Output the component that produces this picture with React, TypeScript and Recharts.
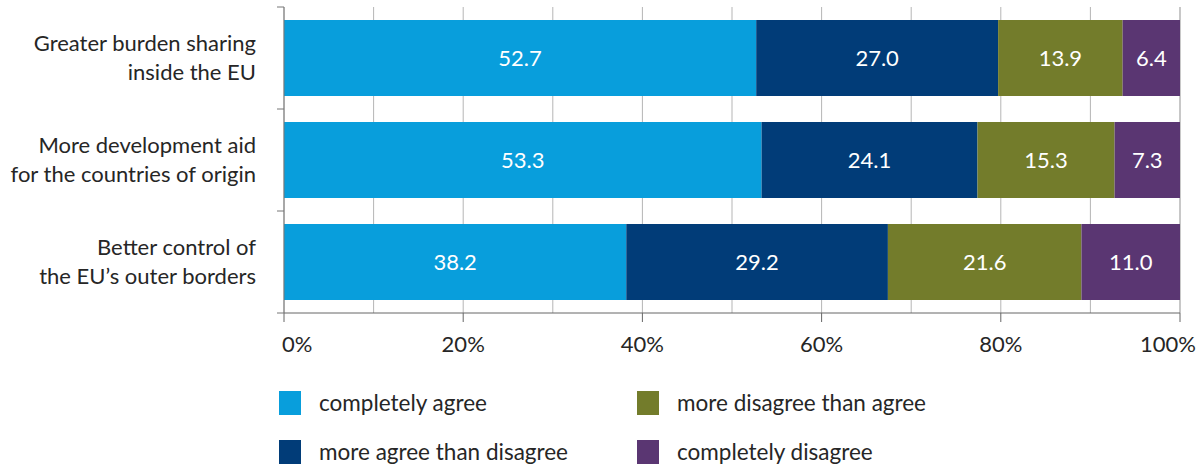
import { Bar, BarChart, CartesianGrid, LabelList, XAxis, YAxis } from "recharts";

const categories = [
  ["Greater burden sharing", "inside the EU"],
  ["More development aid", "for the countries of origin"],
  ["Better control of", "the EU\u2019s outer borders"],
];
const completelyAgree = [52.7, 53.3, 38.2];
const moreAgree = [27.0, 24.1, 29.2];
const moreDisagree = [13.9, 15.3, 21.6];
const completelyDisagree = [6.4, 7.3, 11.0];
// grid every 10%, labels and tick marks only every 20%
const gridValues = [0, 10, 20, 30, 40, 50, 60, 70, 80, 90, 100];
const labelStep = 20;

const series = [
  { key: "completelyAgree", name: "completely agree", color: "#089edc" },
  { key: "moreAgree", name: "more agree than disagree", color: "#013c78" },
  { key: "moreDisagree", name: "more disagree than agree", color: "#737c2b" },
  { key: "completelyDisagree", name: "completely disagree", color: "#5a3672" },
];

const data = categories.map((lines, i) => ({
  name: lines.join(" "),
  lines,
  completelyAgree: completelyAgree[i],
  moreAgree: moreAgree[i],
  moreDisagree: moreDisagree[i],
  completelyDisagree: completelyDisagree[i],
}));

const FONT = "Lato, 'Open Sans', sans-serif";
const TEXT = "#262626";
const WIDTH = 1201;
const HEIGHT = 360;
const TOP = 7;
const PLOT_H = 306;
const BAND = PLOT_H / categories.length;

function PercentTick(props: any) {
  const { x, y, payload } = props;
  const v = payload.value;
  if (v % labelStep !== 0) return null;
  // keep the end labels inside the chart
  const first = v === gridValues[0];
  const last = v === gridValues[gridValues.length - 1];
  const anchor = first ? "start" : last ? "end" : "middle";
  const tx = first ? x - 2 : last ? x + 16 : x;
  return (
    <g>
      <line x1={x} x2={x} y1={y} y2={y + 9} stroke="#666" />
      <text
        x={tx}
        y={y + 30}
        textAnchor={anchor}
        dominantBaseline="central"
        fill={TEXT}
        fontSize={22}
        fontFamily={FONT}
      >
        {`${v}%`}
      </text>
    </g>
  );
}

function CategoryTick(props: any) {
  const { x, y, payload } = props;
  const lines = data[payload.index]?.lines ?? [payload.value];
  const isLast = payload.index === categories.length - 1;
  return (
    <g>
      <line x1={x - 7} x2={x} y1={y - BAND / 2} y2={y - BAND / 2} stroke="#777" />
      {isLast && (
        <line x1={x - 7} x2={x} y1={y + BAND / 2} y2={y + BAND / 2} stroke="#777" />
      )}
      <text x={x - 28} textAnchor="end" fill={TEXT} fontSize={22} fontFamily={FONT}>
        {lines.map((l: string, i: number) => (
          <tspan key={i} x={x - 28} y={y - 14.5 + i * 29} dy="0.36em">
            {l}
          </tspan>
        ))}
      </text>
    </g>
  );
}

export default function App() {
  return (
    <div
      style={{
        position: "absolute",
        left: 0,
        top: 0,
        width: WIDTH,
        height: 467,
        background: "#fff",
        fontFamily: FONT,
      }}
    >
      <BarChart
        width={WIDTH}
        height={HEIGHT}
        data={data}
        layout="vertical"
        margin={{ top: TOP, right: 21, bottom: 0, left: 0 }}
        barSize={76}
      >
        <CartesianGrid horizontal={false} stroke="#b5b5b5" />
        <XAxis
          type="number"
          domain={[0, 100]}
          ticks={gridValues}
          interval={0}
          tick={<PercentTick />}
          tickSize={0}
          tickMargin={0}
          tickLine={false}
          axisLine={{ stroke: "#666" }}
          height={47}
        />
        <YAxis
          type="category"
          dataKey="name"
          width={284}
          tickSize={0}
          tickMargin={0}
          tickLine={false}
          axisLine={{ stroke: "#777" }}
          tick={<CategoryTick />}
          interval={0}
        />
        {series.map((s) => (
          <Bar
            key={s.key}
            dataKey={s.key}
            name={s.name}
            stackId="a"
            fill={s.color}
            isAnimationActive={false}
          >
            <LabelList
              dataKey={s.key}
              position="center"
              fill="#fff"
              fontSize={22}
              fontFamily={FONT}
              formatter={(v: any) => Number(v).toFixed(1)}
            />
          </Bar>
        ))}
      </BarChart>
      <div
        style={{
          position: "absolute",
          left: 279,
          top: 390,
          display: "grid",
          gridTemplateColumns: "358px 300px",
          gridAutoFlow: "column",
          gridTemplateRows: "49px 49px",
        }}
      >
        {series.map((s) => (
          <div key={s.key} style={{ display: "flex", alignItems: "center", height: 25 }}>
            <span
              style={{
                width: 22,
                height: 24,
                background: s.color,
                display: "inline-block",
                marginRight: 18,
              }}
            />
            <span style={{ fontSize: 22.5, color: TEXT }}>{s.name}</span>
          </div>
        ))}
      </div>
    </div>
  );
}
